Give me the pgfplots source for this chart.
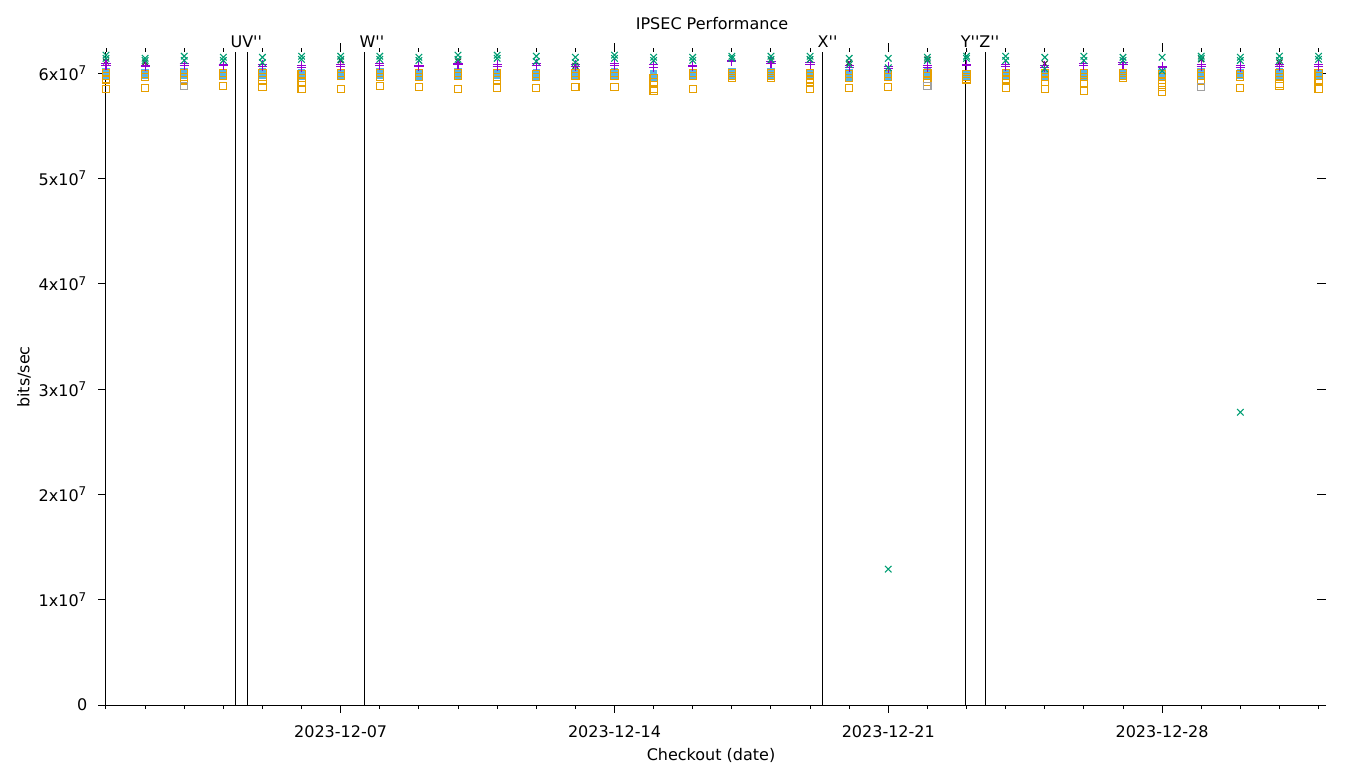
\documentclass[border=0pt]{standalone}
\usepackage{fontspec}
\setmainfont{DejaVu Sans}
\newfontfamily\labfont{DejaVu Sans}
\usepackage{pgfplots}
\usepackage{pgfplotstable}
\pgfplotsset{compat=1.18}

\definecolor{gpPurple}{HTML}{9400D3}
\definecolor{gpGreen}{HTML}{009E73}
\definecolor{gpBlue}{HTML}{56B4E9}
\definecolor{gpOrange}{HTML}{E69F00}
\definecolor{gpGray}{HTML}{A0A0A0}

% x = days since 2023-12-01, y in units of 10^7 bits/sec
\pgfplotstableread{
x y
0 6.17
0 6.14
1 6.14
1 6.12
2 6.16
2 6.12
3 6.15
3 6.12
4 6.15
4 6.10
5 6.16
5 6.13
6 6.16
6 6.13
7 6.16
7 6.13
8 6.15
8 6.12
9 6.17
9 6.13
10 6.17
10 6.14
11 6.16
11 6.11
12 6.15
12 6.10
13 6.17
13 6.14
14 6.15
14 6.12
15 6.15
15 6.12
16 6.16
16 6.14
17 6.16
17 6.13
18 6.16
18 6.13
19 6.14
19 6.08
20 6.14
20 6.05
20 1.29
21 6.15
21 6.12
22 6.16
22 6.14
23 6.16
23 6.12
24 6.15
24 6.04
25 6.16
25 6.12
26 6.15
26 6.12
27 6.15
27 6.02
28 6.16
28 6.14
29 6.15
29 6.12
29 2.78
30 6.16
30 6.12
31 6.16
31 6.13
}\greenx

\pgfplotstableread{
x y
0 6.09
0 6.07
1 6.07
1 6.06
2 6.09
2 6.07
3 6.08
3 6.07
4 6.08
4 6.06
5 6.07
5 6.05
6 6.08
6 6.06
7 6.09
7 6.07
8 6.07
8 6.06
9 6.09
9 6.08
10 6.08
10 6.06
11 6.09
11 6.07
12 6.08
12 6.06
13 6.09
13 6.07
14 6.08
14 6.05
15 6.07
15 6.06
16 6.12
16 6.11
17 6.11
17 6.09
18 6.10
18 6.08
19 6.07
19 6.05
20 6.06
20 6.04
21 6.07
21 6.05
22 6.08
22 6.07
23 6.08
23 6.06
24 6.07
24 6.05
25 6.09
25 6.07
26 6.10
26 6.08
27 6.06
27 6.05
28 6.08
28 6.06
29 6.07
29 6.05
30 6.08
30 6.06
31 6.08
31 6.06
}\purpleplus

\pgfplotstableread{
x y
0 6.11
1 6.10
6 6.12
9 6.11
12 6.07
17 6.12
18 6.13
19 6.10
21 6.13
24 6.09
28 6.13
30 6.10
}\blackx

\pgfplotstableread{
x y
0 6.01
0 5.98
1 6.00
1 5.98
2 6.01
2 5.98
3 6.00
3 5.98
4 6.01
4 5.98
5 6.00
5 5.97
6 6.00
6 5.98
7 6.01
7 5.98
8 6.00
8 5.97
9 6.01
9 5.98
10 6.00
10 5.98
11 6.00
11 5.97
12 6.01
12 5.98
13 6.01
13 5.98
14 5.99
14 5.96
15 6.00
15 5.98
16 6.01
16 5.98
17 6.01
17 5.98
18 6.00
18 5.97
19 6.00
19 5.96
20 5.99
20 5.97
21 6.01
21 5.98
22 5.99
22 5.97
23 6.00
23 5.98
24 6.00
24 5.97
25 6.00
25 5.97
26 6.00
26 5.98
27 6.00
27 5.97
28 6.01
28 5.98
29 6.00
29 5.98
30 6.01
30 5.98
31 6.00
31 5.97
}\bluesq

\pgfplotstableread{
x y
0 6.00
0 5.97
0 5.94
0 5.85
1 5.99
1 5.96
1 5.86
2 6.00
2 5.96
2 5.93
3 6.00
3 5.97
3 5.88
4 6.00
4 5.96
4 5.93
4 5.87
5 5.99
5 5.95
5 5.91
5 5.85
6 6.00
6 5.97
6 5.85
7 6.00
7 5.96
7 5.88
8 6.00
8 5.96
8 5.87
9 6.00
9 5.97
9 5.85
10 6.00
10 5.96
10 5.93
10 5.86
11 5.99
11 5.96
11 5.86
12 6.00
12 5.97
12 5.87
13 6.00
13 5.97
13 5.87
14 5.95
14 5.91
14 5.85
14 5.83
15 6.00
15 5.97
15 5.85
16 6.00
16 5.97
16 5.95
17 6.00
17 5.97
17 5.95
18 6.00
18 5.97
18 5.94
18 5.91
18 5.85
19 5.99
19 5.95
19 5.86
20 5.99
20 5.96
20 5.87
21 6.00
21 5.97
21 5.92
22 5.99
22 5.96
22 5.94
23 6.00
23 5.97
23 5.94
23 5.86
24 6.00
24 5.96
24 5.92
24 5.85
25 6.00
25 5.96
25 5.91
25 5.83
26 6.00
26 5.97
26 5.95
27 5.99
27 5.96
27 5.91
27 5.87
27 5.82
28 6.00
28 5.97
28 5.93
29 5.99
29 5.96
29 5.86
30 6.00
30 5.96
30 5.90
30 5.88
31 6.00
31 5.97
31 5.93
31 5.85
}\orangesq

\pgfplotstableread{
x y
2 5.88
21 5.88
28 5.87
}\graysq

\begin{document}
\begin{tikzpicture}[font=\fontsize{8}{9.6}\selectfont]
\path[use as bounding box] (0,0) rectangle (680pt,384pt);
\pgfplotsset{
  gpbase/.style={
    at={(53pt,31.5pt)}, anchor=south west,
    scale only axis, width=610pt, height=326.5pt,
    xmin=0, xmax=31.19, ymin=0, ymax=6.2,
    xtick={6,13,20,27},
    minor xtick={0,...,31},
    ytick={0,1,2,3,4,5,6},
    major tick length=3.8pt, minor tick length=2pt,
    every tick/.style={black, line width=0.5pt},
    axis line style={black, line width=0.5pt},
    clip=false,
  },
}
% mirror ticks (top outward, right inward)
\begin{axis}[gpbase,
  axis x line*=top, axis y line*=right,
  axis line style={draw=none},
  xticklabels={}, yticklabels={},
  xtick align=outside, ytick align=inside,
  major tick length=4.5pt,
]
\end{axis}
\begin{axis}[gpbase,
  axis x line*=bottom, axis y line*=left,
  xtick align=outside, ytick align=outside,
  xticklabels={2023-12-07,2023-12-14,2023-12-21,2023-12-28},
  yticklabels={0,1x10\textsuperscript{7},2x10\textsuperscript{7},3x10\textsuperscript{7},4x10\textsuperscript{7},5x10\textsuperscript{7},6x10\textsuperscript{7}},
  xticklabel style={yshift=-3pt},
  yticklabel style={xshift=-2pt},
  every axis plot/.append style={only marks, line width=0.55pt},
]
% checkout markers
\addplot[black, no marks, sharp plot, line width=0.5pt] coordinates {(3.30,0) (3.30,6.2)}
  node[pos=1, anchor=base west, inner sep=0pt, xshift=-2.5pt, yshift=2.5pt, font=\fontsize{8}{9.6}\labfont] {UV''};
\addplot[black, no marks, sharp plot, line width=0.5pt] coordinates {(3.61,0) (3.61,6.2)};
\addplot[black, no marks, sharp plot, line width=0.5pt] coordinates {(6.60,0) (6.60,6.2)}
  node[pos=1, anchor=base west, inner sep=0pt, xshift=-2.5pt, yshift=2.5pt, font=\fontsize{8}{9.6}\labfont] {W''};
\addplot[black, no marks, sharp plot, line width=0.5pt] coordinates {(18.31,0) (18.31,6.2)}
  node[pos=1, anchor=base west, inner sep=0pt, xshift=-2.5pt, yshift=2.5pt, font=\fontsize{8}{9.6}\labfont] {X''};
\addplot[black, no marks, sharp plot, line width=0.5pt] coordinates {(21.97,0) (21.97,6.2)}
  node[pos=1, anchor=base west, inner sep=0pt, xshift=-2.5pt, yshift=2.5pt, font=\fontsize{8}{9.6}\labfont] {Y''Z''};
\addplot[black, no marks, sharp plot, line width=0.5pt] coordinates {(22.48,0) (22.48,6.2)};
% measurements
\addplot[gpBlue, mark=square*, mark size=1.6pt, mark options={fill=gpBlue}] table[x=x,y=y] {\bluesq};
\addplot[gpOrange, mark=square, mark size=1.8pt] table[x=x,y=y] {\orangesq};
\addplot[gpGray, mark=square, mark size=1.8pt] table[x=x,y=y] {\graysq};
\addplot[black!80, mark=x, mark size=2pt] table[x=x,y=y] {\blackx};
\addplot[gpPurple, mark=+, mark size=2.3pt] table[x=x,y=y] {\purpleplus};
\addplot[gpGreen, mark=x, mark size=2.3pt] table[x=x,y=y] {\greenx};
\end{axis}
\node at (356pt,372pt) {IPSEC Performance};
\node at (355.5pt,6.5pt) {Checkout (date)};
\node[rotate=90] at (12pt,195.5pt) {bits/sec};
\end{tikzpicture}
\end{document}
